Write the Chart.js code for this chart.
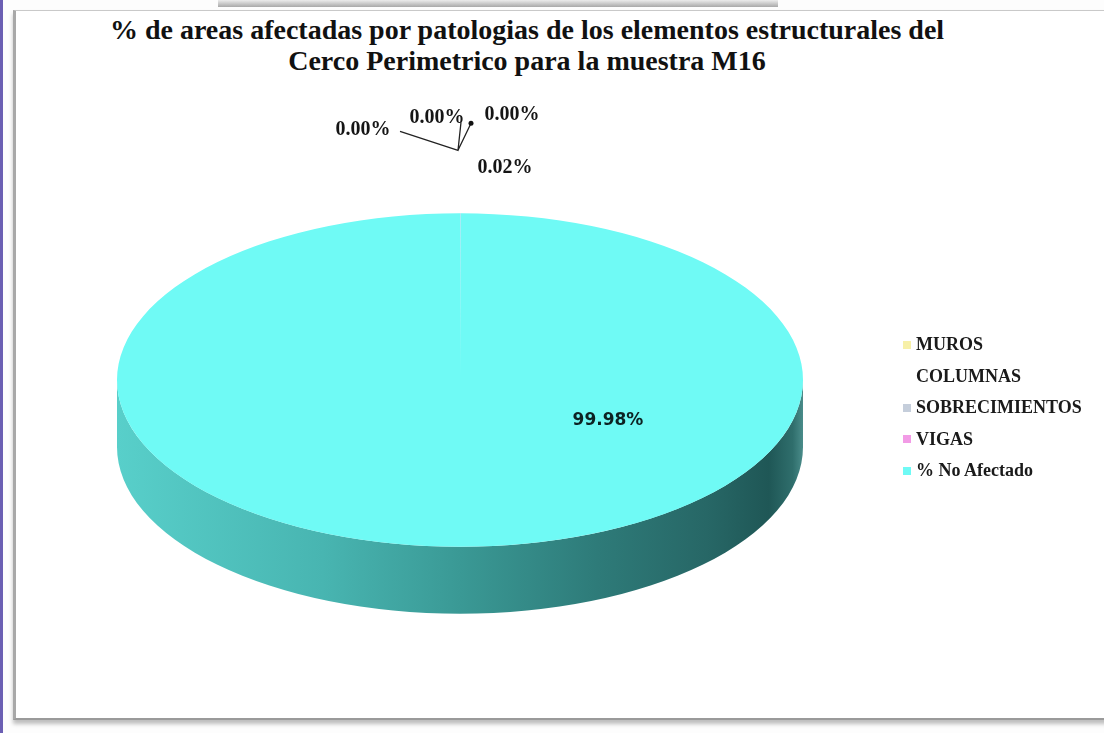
<!DOCTYPE html>
<html>
<head>
<meta charset="utf-8">
<script src="https://cdn.jsdelivr.net/npm/chart.js@4.4.1/dist/chart.umd.min.js"></script>
<style>
  html, body { margin: 0; padding: 0; }
  body { width: 1104px; height: 733px; position: relative; overflow: hidden; background: #fdfdfd; font-family: "Liberation Serif", serif; }
  .stripe { position: absolute; left: 0; top: 0; width: 3px; height: 733px; background: #6b5fb3; }
  .tab { position: absolute; left: 218px; top: 0; width: 560px; height: 7px; background: linear-gradient(#ececec, #a9a9a9); }
  .frame { position: absolute; left: 13px; top: 10px; width: 1100px; height: 707px; background: #fff;
           border-top: 1px solid #c9c9c9; border-left: 3px solid #a8a8a8; border-bottom: 2px solid #9a9a9a;
           box-shadow: 0 4px 4px rgba(0,0,0,0.25); }
  canvas { position: absolute; left: 0; top: 0; }
  .title { position: absolute; left: 0; width: 1054px; text-align: center; font-weight: bold; font-size: 28px; color: #111; white-space: nowrap; }
  #legend { position: absolute; left: 903px; top: 329px; }
  #legend .item { height: 31.5px; display: flex; align-items: center; font-weight: bold; font-size: 18px; color: #1a1a1a; white-space: nowrap; }
  #legend .box { width: 8px; height: 8px; margin-right: 5px; }
</style>
</head>
<body>
<div class="stripe"></div>
<div class="tab"></div>
<div class="frame"></div>
<div class="title" style="top:14px">% de areas afectadas por patologias de los elementos estructurales del</div>
<div class="title" style="top:45px">Cerco Perimetrico para la muestra M16</div>
<canvas id="chartM16" width="1104" height="733"></canvas>
<div id="legend"></div>

<script>
const categories = ['MUROS', 'COLUMNAS', 'SOBRECIMIENTOS', 'VIGAS', '% No Afectado'];
const percentages = [0.00, 0.00, 0.00, 0.02, 99.98];
const sliceColors = ['#f7f0a8', '#ffffff', '#c5cedb', '#f29be6', '#6ffaf5'];

// pie placement and tilt
const pieCenter = { x: 460, y: 380 };
const pieRadius = 343;
const tilt = 0.486;
const depth = 67;

// where the small percentage labels sit, relative to the top edge of the pie
const smallLabelOffsets = [[-97, -83], [-23, -95], [52, -98], [45, -45]];
const bigLabelOffset = [148, 41];

function drawWall(ctx, arc) {
    const cx = arc.x, cy = arc.y, r = arc.outerRadius, ry = r * tilt;
    // only the front half of the rim is visible
    let a0 = Math.max(arc.startAngle, 0);
    let a1 = Math.min(arc.endAngle, Math.PI);
    if (a1 <= a0) return;
    const grad = ctx.createLinearGradient(cx - r, 0, cx + r, 0);
    grad.addColorStop(0, '#58cfca');
    grad.addColorStop(0.3, '#48b5b1');
    grad.addColorStop(0.5, '#3a9995');
    grad.addColorStop(0.7, '#2e7b79');
    grad.addColorStop(0.86, '#276766');
    grad.addColorStop(0.95, '#1f5756');
    grad.addColorStop(0.985, '#2f6e6c');
    grad.addColorStop(1, '#4a8c8a');
    ctx.beginPath();
    ctx.ellipse(cx, cy, r, ry, 0, a0, a1, false);
    ctx.ellipse(cx, cy + depth, r, ry, 0, a1, a0, true);
    ctx.closePath();
    ctx.fillStyle = grad;
    ctx.fill();
}

const tiltPlugin = {
    id: 'tiltPie',
    beforeDatasetsDraw(chart) {
        const ctx = chart.ctx;
        const meta = chart.getDatasetMeta(0);
        meta.data.forEach(arc => drawWall(ctx, arc));
        const c = meta.data[0];
        ctx.save();
        ctx.translate(c.x, c.y);
        ctx.scale(1, tilt);
        ctx.translate(-c.x, -c.y);
    },
    afterDatasetsDraw(chart) {
        const ctx = chart.ctx;
        ctx.restore();
        const meta = chart.getDatasetMeta(0);
        const c = meta.data[0];
        const topX = c.x, topY = c.y - c.outerRadius * tilt;

        // leader lines for the tiny slices
        const jx = topX - 2, jy = topY - 63;
        ctx.save();
        ctx.strokeStyle = '#222';
        ctx.lineWidth = 1.3;
        ctx.beginPath();
        ctx.moveTo(topX - 60, topY - 82);
        ctx.lineTo(jx, jy);
        ctx.lineTo(topX + 1, topY - 91);
        ctx.moveTo(jx, jy);
        ctx.lineTo(topX + 11, topY - 90);
        ctx.stroke();
        ctx.fillStyle = '#111';
        ctx.beginPath();
        ctx.arc(topX + 11, topY - 90, 2.5, 0, Math.PI * 2);
        ctx.fill();

        ctx.textAlign = 'center';
        ctx.textBaseline = 'middle';
        ctx.font = 'bold 20px "Liberation Serif"';
        ctx.fillStyle = '#151515';
        smallLabelOffsets.forEach((off, i) => {
            ctx.fillText(percentages[i].toFixed(2) + '%', topX + off[0], topY + off[1]);
        });
        ctx.font = 'bold 17px "DejaVu Sans"';
        ctx.fillStyle = '#0d2222';
        const last = percentages.length - 1;
        ctx.fillText(percentages[last].toFixed(2) + '%', c.x + bigLabelOffset[0], c.y + bigLabelOffset[1]);
        ctx.restore();
    }
};

new Chart(document.getElementById('chartM16'), {
    type: 'pie',
    data: {
        labels: categories,
        datasets: [{
            data: percentages,
            backgroundColor: sliceColors,
            borderWidth: 0,
            hoverOffset: 0,
            offset: 0
        }]
    },
    options: {
        responsive: false,
        animation: false,
        events: [],
        layout: {
            padding: {
                left: pieCenter.x - pieRadius,
                right: 1104 - (pieCenter.x + pieRadius),
                top: pieCenter.y - pieRadius,
                bottom: 733 - (pieCenter.y + pieRadius)
            }
        },
        plugins: {
            legend: { display: false },
            tooltip: { enabled: false }
        }
    },
    plugins: [tiltPlugin]
});

// legend list
const legend = document.getElementById('legend');
categories.forEach((name, i) => {
    const row = document.createElement('div');
    row.className = 'item';
    row.innerHTML = `<span class="box" style="background:${sliceColors[i]}"></span><span>${name}</span>`;
    legend.appendChild(row);
});
</script>
</body>
</html>
